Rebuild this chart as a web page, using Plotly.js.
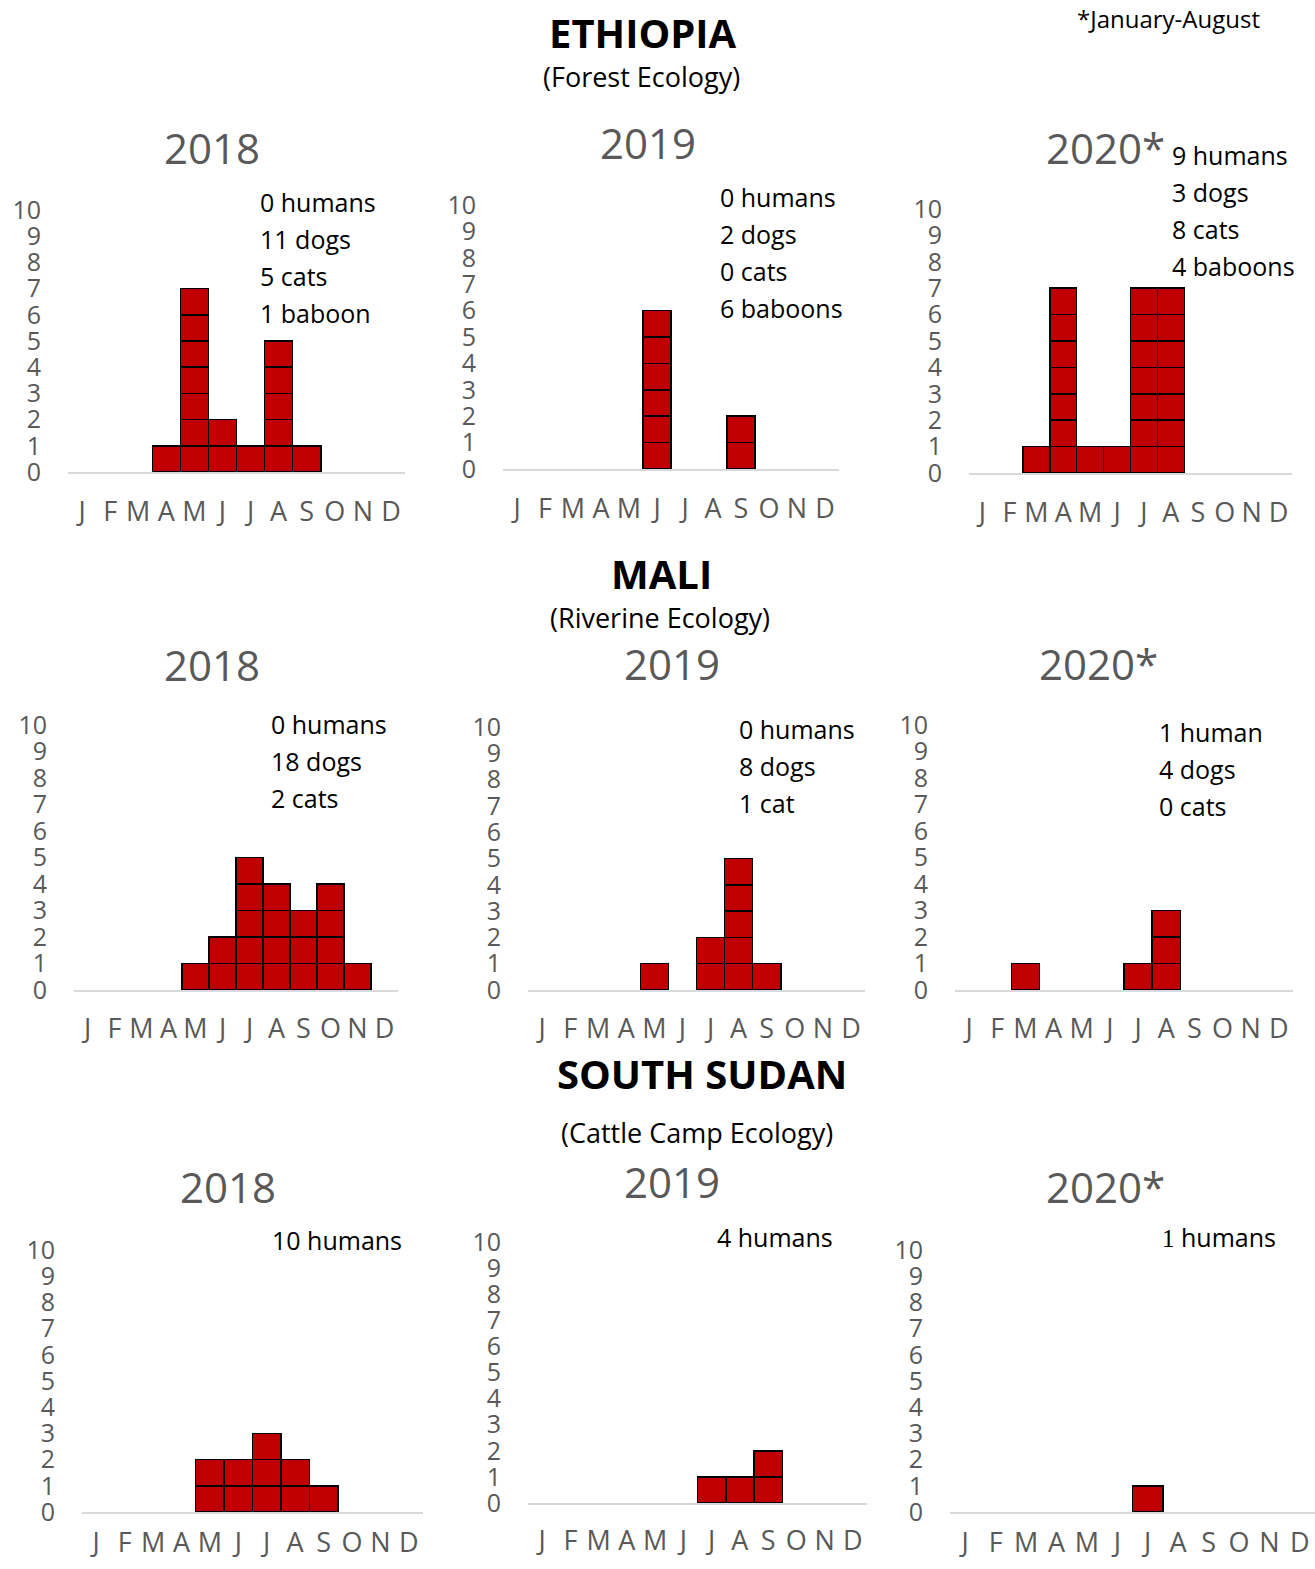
<!DOCTYPE html>
<html>
<head>
<meta charset="utf-8">
<script src="https://cdn.plot.ly/plotly-3.0.1.min.js"></script>
<style>
  html, body { margin: 0; padding: 0; background: #ffffff; }
  #chart { width: 1315px; height: 1569px; }
</style>
</head>
<body>
<div id="chart"></div>
<script>
// ---------------- DATA ----------------
const months = ['Jan','Feb','Mar','Apr','May','Jun','Jul','Aug','Sep','Oct','Nov','Dec'];
const monthLabels = ['J','F','M','A','M','J','J','A','S','O','N','D'];
const yTicks = [0,1,2,3,4,5,6,7,8,9,10];

const ethiopia2018 = [0,0,0,1,7,2,1,5,1,0,0,0];
const ethiopia2019 = [0,0,0,0,0,6,0,0,2,0,0,0];
const ethiopia2020 = [0,0,1,7,1,1,7,7,0,0,0,0];
const mali2018 = [0,0,0,0,1,2,5,4,3,4,1,0];
const mali2019 = [0,0,0,0,1,0,2,5,1,0,0,0];
const mali2020 = [0,0,1,0,0,0,1,3,0,0,0,0];
const southSudan2018 = [0,0,0,0,2,2,3,2,1,0,0,0];
const southSudan2019 = [0,0,0,0,0,0,1,1,2,0,0,0];
const southSudan2020 = [0,0,0,0,0,0,1,0,0,0,0,0];

const ethiopia2018Notes = ['0 humans','11 dogs','5 cats','1 baboon'];
const ethiopia2019Notes = ['0 humans','2 dogs','0 cats','6 baboons'];
const ethiopia2020Notes = ['9 humans','3 dogs','8 cats','4 baboons'];
const mali2018Notes = ['0 humans','18 dogs','2 cats'];
const mali2019Notes = ['0 humans','8 dogs','1 cat'];
const mali2020Notes = ['1 human','4 dogs','0 cats'];
const southSudan2018Notes = ['10 humans'];
const southSudan2019Notes = ['4 humans'];
const southSudan2020Notes = ['<span style="font-family:\'Liberation Serif\'">1</span> humans'];

const countryTitles = ['ETHIOPIA','MALI','SOUTH SUDAN'];
const countrySubtitles = ['(Forest Ecology)','(Riverine Ecology)','(Cattle Camp Ecology)'];
const footnote = '*January-August';

// ---------------- LAYOUT ----------------
const W = 1315, H = 1569;
const FONT = 'Open Sans, Noto Sans, sans-serif';
const GRAY = '#595959';
const px = x => x / W;
const py = y => 1 - y / H;

const panels = [
  {counts: ethiopia2018, year: '2018', notes: ethiopia2018Notes, x0: 68, x1: 405, yb: 472, yt: 210, so: 15, yrX: 212, yrY: 147, nX: 258, nY: 202},
  {counts: ethiopia2019, year: '2019', notes: ethiopia2019Notes, x0: 503, x1: 839, yb: 469, yt: 205, so: 15, yrX: 648, yrY: 143, nX: 718, nY: 197},
  {counts: ethiopia2020, year: '2020*', notes: ethiopia2020Notes, x0: 969, x1: 1292, yb: 473, yt: 209, so: 15, yrX: 1105, yrY: 147, nX: 1170, nY: 155},
  {counts: mali2018, year: '2018', notes: mali2018Notes, x0: 74, x1: 398, yb: 990, yt: 725, so: 14, yrX: 212, yrY: 664, nX: 269, nY: 724},
  {counts: mali2019, year: '2019', notes: mali2019Notes, x0: 528, x1: 865, yb: 990, yt: 727, so: 14, yrX: 672, yrY: 663, nX: 737, nY: 729},
  {counts: mali2020, year: '2020*', notes: mali2020Notes, x0: 955, x1: 1293, yb: 990, yt: 725, so: 14, yrX: 1098, yrY: 663, nX: 1157, nY: 732},
  {counts: southSudan2018, year: '2018', notes: southSudan2018Notes, x0: 82, x1: 423, yb: 1512, yt: 1250, so: 6, yrX: 228, yrY: 1186, nX: 270, nY: 1240},
  {counts: southSudan2019, year: '2019', notes: southSudan2019Notes, x0: 528, x1: 867, yb: 1503, yt: 1242, so: 13, yrX: 672, yrY: 1181, nX: 715, nY: 1237},
  {counts: southSudan2020, year: '2020*', notes: southSudan2020Notes, x0: 950, x1: 1315, yb: 1512, yt: 1250, so: 6, yrX: 1105, yrY: 1186, nX: 1160, nY: 1237}
];

const titlePos = [
  {x: 643, y: 32, sx: 641, sy: 76},
  {x: 662, y: 573, sx: 660, sy: 617},
  {x: 702, y: 1073, sx: 697, sy: 1132}
];

const traces = [];
const layout = {
  width: W, height: H,
  margin: {l: 0, r: 0, t: 0, b: 0},
  paper_bgcolor: '#ffffff',
  plot_bgcolor: 'rgba(0,0,0,0)',
  barmode: 'stack',
  bargap: 0,
  showlegend: false,
  font: {family: FONT, color: GRAY},
  annotations: []
};

panels.forEach((p, i) => {
  const n = i + 1;
  const xa = 'x' + (n === 1 ? '' : n);
  const ya = 'y' + (n === 1 ? '' : n);
  const maxC = Math.max(...p.counts);
  for (let k = 1; k <= maxC; k++) {
    traces.push({
      type: 'bar',
      x: months,
      y: p.counts.map(c => (c >= k ? 1 : null)),
      xaxis: xa, yaxis: ya,
      marker: {color: '#C00000', line: {color: '#000000', width: 1.5}},
      hoverinfo: 'skip'
    });
  }
  layout['xaxis' + (n === 1 ? '' : n)] = {
    domain: [px(p.x0), px(p.x1)],
    anchor: ya,
    type: 'category',
    categoryorder: 'array',
    categoryarray: months,
    range: [-0.5, 11.5],
    tickmode: 'array',
    tickvals: months,
    ticktext: monthLabels,
    tickfont: {family: FONT, size: 27, color: GRAY},
    ticks: '',
    ticklabelstandoff: p.so,
    showline: true,
    linecolor: '#d9d9d9',
    linewidth: 2,
    showgrid: false,
    zeroline: false,
    layer: 'below traces',
    fixedrange: true
  };
  layout['yaxis' + (n === 1 ? '' : n)] = {
    domain: [py(p.yb), py(p.yt)],
    anchor: xa,
    range: [0, 10],
    tickmode: 'array',
    tickvals: yTicks,
    ticktext: yTicks.map(String),
    tickfont: {family: FONT, size: 25, color: GRAY},
    ticks: '',
    ticklabelstandoff: 26,
    showline: false,
    showgrid: false,
    zeroline: false,
    fixedrange: true
  };
  layout.annotations.push({
    xref: 'paper', yref: 'paper', x: px(p.yrX), y: py(p.yrY),
    xanchor: 'center', yanchor: 'middle', showarrow: false,
    text: p.year, font: {family: FONT, size: 42, color: GRAY}
  });
  p.notes.forEach((t, j) => {
    layout.annotations.push({
      xref: 'paper', yref: 'paper', x: px(p.nX), y: py(p.nY + j * 37),
      xanchor: 'left', yanchor: 'middle', showarrow: false,
      text: t, font: {family: FONT, size: 25, color: '#000000'}
    });
  });
});

countryTitles.forEach((t, i) => {
  const tp = titlePos[i];
  layout.annotations.push({
    xref: 'paper', yref: 'paper', x: px(tp.x), y: py(tp.y),
    xanchor: 'center', yanchor: 'middle', showarrow: false,
    text: '<b>' + t + '</b>', font: {family: FONT, size: 40, color: '#000000'}
  });
  layout.annotations.push({
    xref: 'paper', yref: 'paper', x: px(tp.sx), y: py(tp.sy),
    xanchor: 'center', yanchor: 'middle', showarrow: false,
    text: countrySubtitles[i], font: {family: FONT, size: 27, color: '#000000'}
  });
});

layout.annotations.push({
  xref: 'paper', yref: 'paper', x: px(1075), y: py(18),
  xanchor: 'left', yanchor: 'middle', showarrow: false,
  text: footnote, font: {family: FONT, size: 24, color: '#000000'}
});

Plotly.newPlot('chart', traces, layout, {staticPlot: true, displayModeBar: false});
</script>
</body>
</html>
